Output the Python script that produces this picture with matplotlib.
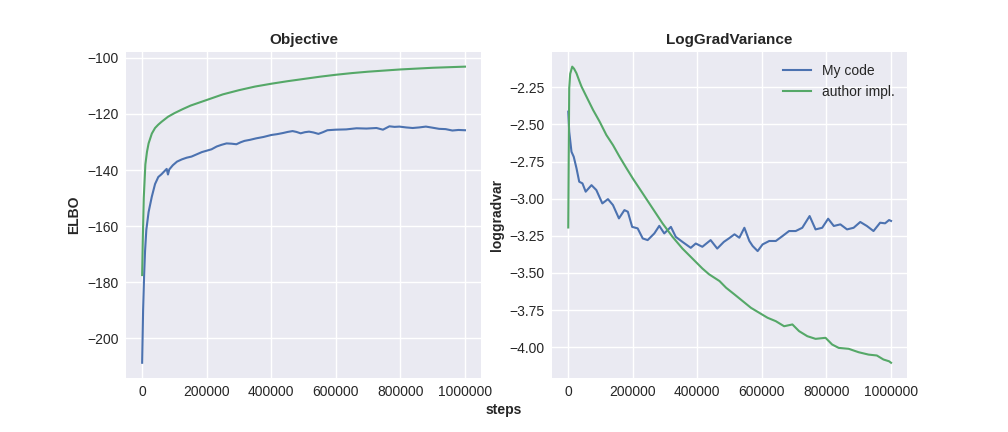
import matplotlib
matplotlib.use("Agg")
import matplotlib.pyplot as plt

# ---------------- data ----------------
elbo_mine_steps = [0, 3000, 6000, 9000, 13000, 20000, 30000, 40000, 50000, 60000, 70000,
                   76000, 80000, 84000, 95000, 108000, 123000, 138000, 153000, 169000,
                   185000, 200000, 215000, 231000, 246000, 261500, 277000, 292000, 305000,
                   317000, 335000, 353000, 376000, 400000, 418000, 436000, 451000, 466000,
                   478000, 491000, 504000, 517000, 531000, 546000, 560000, 574000, 600000,
                   632000, 664000, 695000, 726000, 746000, 766000, 782000, 797000, 818000,
                   838000, 858000, 879000, 900000, 920000, 940000, 961000, 980000, 1000000]
elbo_mine = [-208.8, -190, -178, -169, -161.3, -155, -149.5, -145, -142.5, -141.5, -140.3,
             -139.6, -141.6, -139.8, -138.3, -137.0, -136.2, -135.6, -135.2, -134.4,
             -133.6, -133.1, -132.6, -131.6, -131.0, -130.5, -130.6, -130.8, -130.1,
             -129.6, -129.2, -128.7, -128.2, -127.5, -127.2, -126.8, -126.4, -126.1,
             -126.4, -126.9, -126.5, -126.3, -126.6, -127.1, -126.5, -125.8, -125.6,
             -125.5, -125.1, -125.2, -125.0, -125.6, -124.4, -124.6, -124.5, -124.8,
             -125.0, -124.8, -124.5, -124.9, -125.3, -125.4, -125.9, -125.7, -125.8]

elbo_author_steps = [0, 2000, 5000, 10000, 15000, 20000, 30000, 40000, 50000, 60000, 80000,
                     100000, 125000, 150000, 175000, 200000, 250000, 300000, 350000, 400000,
                     450000, 500000, 550000, 600000, 650000, 700000, 750000, 800000, 850000,
                     900000, 950000, 1000000]
elbo_author = [-177.5, -165, -150, -138, -133.5, -130.5, -127, -125, -123.8, -122.8, -121,
               -119.7, -118.3, -117, -116, -115, -113, -111.5, -110.2, -109.2,
               -108.3, -107.5, -106.7, -106, -105.4, -104.9, -104.5, -104.1, -103.8,
               -103.5, -103.3, -103.1]

lgv_mine_steps = [0, 3000, 10000, 17000, 25600, 34000, 44000, 54000, 72000, 87000, 105600,
                  123000, 138500, 157000, 174000, 184600, 198000, 215000, 230800, 246000,
                  266700, 282000, 297400, 318000, 333000, 353800, 379500, 395000, 415400,
                  441000, 461500, 482000, 497400, 515000, 530000, 545600, 561000, 571300,
                  586700, 602000, 622600, 643000, 663600, 684000, 704600, 725000, 747700,
                  766100, 786700, 805100, 822600, 843000, 863600, 884000, 904600, 925100,
                  945600, 966100, 981500, 993800, 1000000]
lgv_mine = [-2.414, -2.549, -2.684, -2.718, -2.796, -2.886, -2.897, -2.953, -2.909, -2.942,
            -3.032, -3.003, -3.043, -3.133, -3.077, -3.088, -3.190, -3.200, -3.268, -3.279,
            -3.234, -3.183, -3.234, -3.190, -3.257, -3.291, -3.331, -3.302, -3.324,
            -3.279, -3.336, -3.291, -3.268, -3.240, -3.263, -3.196, -3.285, -3.319,
            -3.353, -3.308, -3.285, -3.285, -3.252, -3.218, -3.218, -3.196, -3.117,
            -3.207, -3.196, -3.135, -3.184, -3.173, -3.207, -3.196, -3.157, -3.184,
            -3.218, -3.162, -3.166, -3.144, -3.150]

lgv_author_steps = [0, 1500, 3000, 6000, 12300, 18000, 25600, 33000, 41000, 56400, 77000,
                    97400, 118000, 138500, 159000, 179500, 200000, 230800, 261500, 292300,
                    323000, 353800, 384600, 415400, 436000, 468700, 489000, 515000, 540500,
                    566000, 592000, 617400, 643000, 668700, 694400, 715000, 740500, 766100,
                    797000, 817400, 838000, 868700, 899500, 930200, 955900, 976400, 993800,
                    1000000]
lgv_author = [-3.194, -2.70, -2.257, -2.160, -2.111, -2.125, -2.156, -2.200, -2.245, -2.313,
              -2.403, -2.482, -2.571, -2.639, -2.718, -2.792, -2.864, -2.965, -3.066, -3.167,
              -3.257, -3.336, -3.403, -3.470, -3.509, -3.555, -3.600, -3.645, -3.690,
              -3.735, -3.769, -3.802, -3.825, -3.859, -3.847, -3.892, -3.926, -3.944,
              -3.937, -3.982, -4.005, -4.011, -4.034, -4.050, -4.056, -4.083, -4.095,
              -4.105]

series_labels = ["My code", "author impl."]
titles = ["Objective", "LogGradVariance"]
ylabels = ["ELBO", "loggradvar"]
xticks = [0, 200000, 400000, 600000, 800000, 1000000]

# ---------------- style ----------------
plt.rcParams.update({
    "font.family": ["Liberation Sans", "DejaVu Sans"],
    "font.size": 10,
    "axes.facecolor": "#EAEAF2",
    "axes.edgecolor": "white",
    "axes.linewidth": 0,
    "axes.grid": True,
    "grid.color": "white",
    "grid.linewidth": 1.0,
    "axes.axisbelow": True,
    "xtick.major.size": 0,
    "ytick.major.size": 0,
    "xtick.major.pad": 5.5,
    "ytick.major.pad": 5.5,
    "xtick.color": "#262626",
    "ytick.color": "#262626",
    "text.color": "#262626",
    "axes.labelcolor": "#262626",
    "legend.frameon": False,
})

blue = "#4C72B0"
green = "#55A868"

fig, axes = plt.subplots(1, 2, figsize=(10.08, 4.32), dpi=100)
fig.subplots_adjust(left=0.125, right=0.9, top=0.88, bottom=0.126, wspace=0.2)

ax = axes[0]
ax.plot(elbo_mine_steps, elbo_mine, color=blue, lw=1.5, label=series_labels[0])
ax.plot(elbo_author_steps, elbo_author, color=green, lw=1.5, label=series_labels[1])

ax2 = axes[1]
ax2.plot(lgv_mine_steps, lgv_mine, color=blue, lw=1.5, label=series_labels[0])
ax2.plot(lgv_author_steps, lgv_author, color=green, lw=1.5, label=series_labels[1])
ax2.legend(loc="upper right", fontsize=10)

for a, t, yl in zip(axes, titles, ylabels):
    a.set_title(t, fontsize=11, fontweight="bold")
    a.set_ylabel(yl, fontsize=10, fontweight="bold")
    a.set_xticks(xticks)
    a.ticklabel_format(axis="x", style="plain", useOffset=False)
    for s in a.spines.values():
        s.set_visible(False)

ax.set_yticks([-200, -180, -160, -140, -120, -100])
ax2.set_yticks([-4.0, -3.75, -3.5, -3.25, -3.0, -2.75, -2.5, -2.25])

fig.text(0.5, 0.05, "steps", ha="center", va="center", fontsize=10, fontweight="bold")

fig.savefig("out.png", dpi=100, facecolor="white")
